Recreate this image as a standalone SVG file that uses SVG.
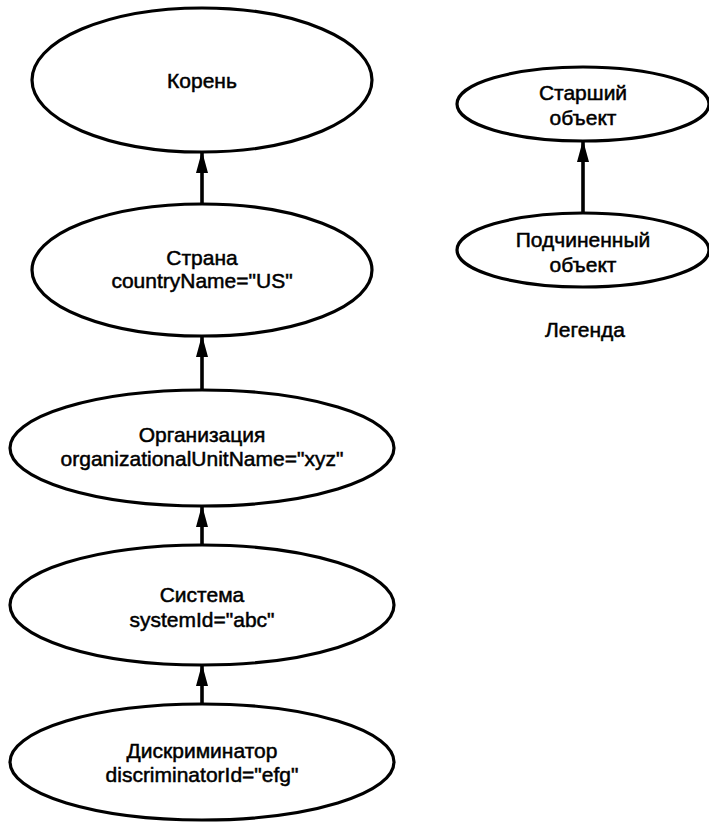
<svg xmlns="http://www.w3.org/2000/svg" width="709" height="822" viewBox="0 0 709 822">
<defs>
<style>
.node ellipse{fill:#fff;stroke:#000;stroke-width:3.2}
text{font-family:"Liberation Sans",Arial,sans-serif;font-size:21px;fill:#000;text-anchor:middle;stroke:#000;stroke-width:0.5}
.conn line{stroke:#000;stroke-width:3.6}
</style>
<marker id="ah" markerUnits="userSpaceOnUse" markerWidth="22" markerHeight="12" refX="21" refY="6" orient="auto" viewBox="0 0 22 12">
<path d="M0,0 L22,6 L0,12 Z" fill="#000"/>
</marker>
</defs>
<rect width="709" height="822" fill="#fff"/>
<g id="connectors" class="conn">
<line x1="202" y1="204" x2="202" y2="152" marker-end="url(#ah)"/>
<line x1="202" y1="390" x2="202" y2="336" marker-end="url(#ah)"/>
<line x1="202" y1="545" x2="202" y2="506" marker-end="url(#ah)"/>
<line x1="202" y1="703" x2="202" y2="665" marker-end="url(#ah)"/>
<line x1="583" y1="213" x2="583" y2="141" marker-end="url(#ah)"/>
</g>
<g id="root" class="node">
<ellipse cx="202" cy="80" rx="170" ry="72"/>
<text x="202" y="88">Корень</text>
</g>
<g id="country" class="node">
<ellipse cx="202" cy="270" rx="170" ry="66"/>
<text x="202" y="265">Страна</text>
<text x="202" y="288">countryName="US"</text>
</g>
<g id="organization" class="node">
<ellipse cx="202" cy="448" rx="192" ry="58"/>
<text x="202" y="442">Организация</text>
<text x="202" y="466">organizationalUnitName="xyz"</text>
</g>
<g id="system" class="node">
<ellipse cx="202" cy="605" rx="192" ry="60"/>
<text x="202" y="602">Система</text>
<text x="202" y="627">systemId="abc"</text>
</g>
<g id="discriminator" class="node">
<ellipse cx="202" cy="762" rx="192" ry="58"/>
<text x="202" y="758">Дискриминатор</text>
<text x="202" y="782">discriminatorId="efg"</text>
</g>
<g id="legend-superior" class="node">
<ellipse cx="583" cy="104" rx="126" ry="37"/>
<text x="583" y="100">Старший</text>
<text x="583" y="125">объект</text>
</g>
<g id="legend-subordinate" class="node">
<ellipse cx="583" cy="250" rx="126" ry="37"/>
<text x="583" y="247">Подчиненный</text>
<text x="583" y="272">объект</text>
</g>
<text id="legend-label" x="585" y="337">Легенда</text>
</svg>
